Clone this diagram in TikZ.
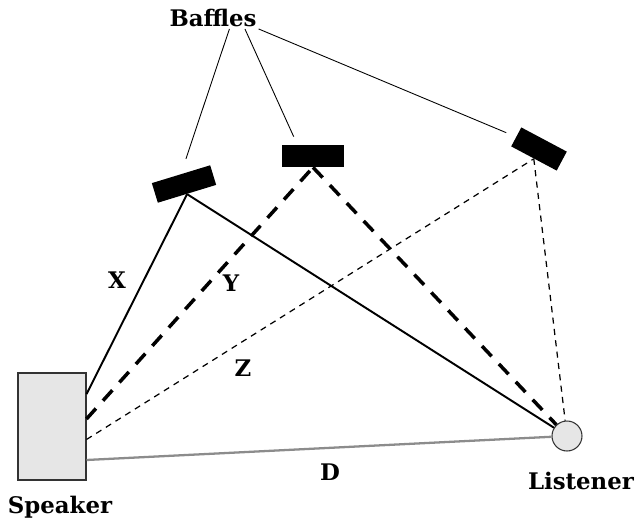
\documentclass[tikz,border=0pt]{standalone}
\usepackage{fontspec}
\setmainfont{DejaVu Serif}
\usetikzlibrary{calc}
\definecolor{boxgray}{HTML}{E6E6E6}
\definecolor{edgegray}{HTML}{333333}
\definecolor{linegray}{HTML}{8C8C8C}

\begin{document}
\begin{tikzpicture}[
  x=0.02cm, y=-0.02cm,
  lbl/.style={font=\fontsize{13}{15}\selectfont\bfseries, inner sep=1pt},
  baffle/.style={fill=black, inner sep=0pt},
  spkbox/.style={draw=edgegray, fill=boxgray, line width=0.6pt,
                 minimum width=1.36cm, minimum height=2.14cm, inner sep=0pt},
  lisdot/.style={draw=edgegray, fill=boxgray, circle, line width=0.6pt,
                 minimum size=0.6cm, inner sep=0pt},
  rayx/.style={line width=1.1pt},
  rayy/.style={line width=2pt, dash pattern=on 8pt off 6pt},
  rayz/.style={line width=0.7pt, dash pattern=on 3.5pt off 3pt},
  rayd/.style={line width=1.3pt, linegray},
  tag/.style={line width=0.5pt},
]
  \useasboundingbox (0,0) rectangle (637,522);

  \node[spkbox] (spk) at (52,426.5) {};
  \node[lisdot] (lis) at (567,436) {};
  \node[baffle, minimum width=1.22cm, minimum height=0.41cm, rotate=17] (b1) at (184,184) {};
  \node[baffle, minimum width=1.24cm, minimum height=0.44cm] (b2) at (313,156) {};
  \node[baffle, minimum width=1.03cm, minimum height=0.43cm, rotate=-28] (b3) at (539,149) {};

  \node[lbl] (baf) at (213,18) {Baffles};
  \node[lbl] (spkname) at (60,507) {Speaker};
  \node[lbl] (lisname) at (581,481) {Listener};
  \node[lbl] (lx) at (117,280) {X};
  \node[lbl] (ly) at (231,283) {Y};
  \node[lbl] (lz) at (243,368) {Z};
  \node[lbl] (ld) at (330,472) {D};

  \draw[rayd] ($(spk.north east)!0.81!(spk.south east)$) -- (lis);
  \draw[rayz] ($(spk.north east)!0.62!(spk.south east)$) -- (b3.south);
  \draw[rayz] (b3.south) -- (lis);
  \draw[rayy] ($(spk.north east)!0.43!(spk.south east)$) -- (b2.south);
  \draw[rayy] (b2.south) -- (lis);
  \draw[rayx] ($(spk.north east)!0.2!(spk.south east)$) -- (b1.south);
  \draw[rayx] (b1.south) -- (lis);

  \draw[tag, shorten >=9] ($(baf.south west)!0.68!(baf.south east)$) -- (b1.north);
  \draw[tag, shorten >=5] ($(baf.south west)!0.85!(baf.south east)$) -- ($(b2.north west)!0.25!(b2.north east)$);
  \draw[tag, shorten >=6] (baf.south east) -- (b3.west);
\end{tikzpicture}
\end{document}
